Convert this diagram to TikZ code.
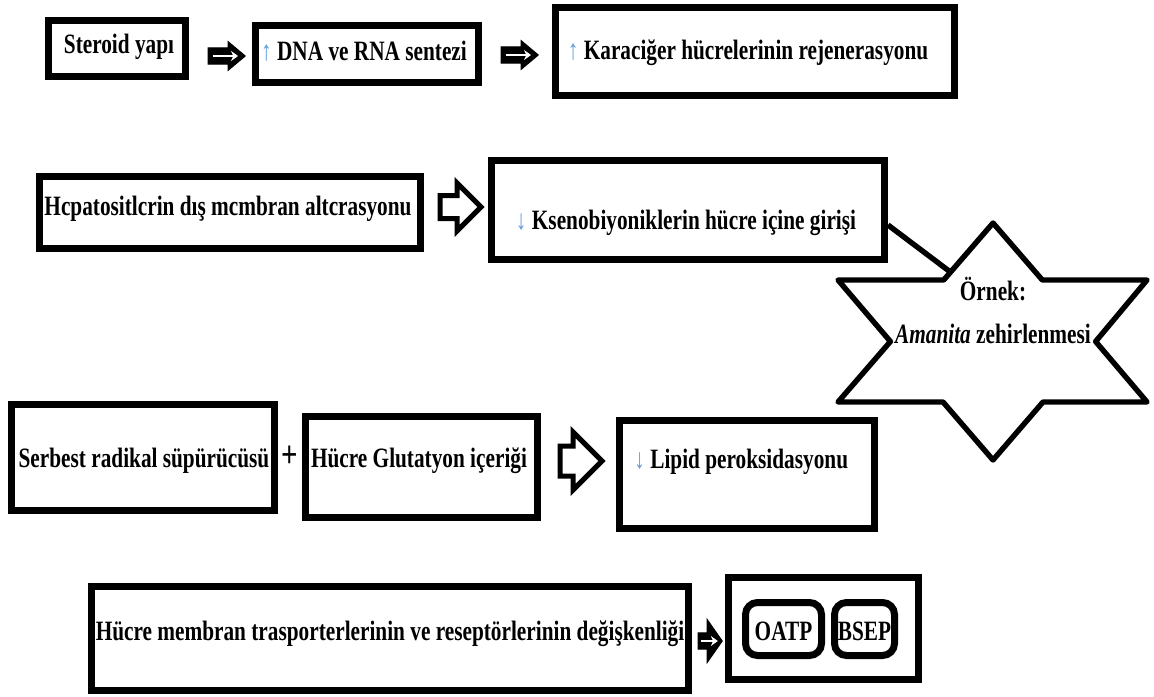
\documentclass[tikz,border=0pt]{standalone}
\usepackage{fontspec}
\setmainfont[FakeStretch=0.76]{Liberation Serif}
\usetikzlibrary{shapes.arrows}
\usetikzlibrary{arrows.meta}
\definecolor{okmavi}{RGB}{95,155,215}
\tikzstyle{kutu}=[draw, line width=3.5pt, fill=white, inner sep=0pt]
\tikzstyle{yuvarlak}=[kutu, rounded corners=6pt]
\tikzstyle{yazi}=[font=\bfseries\fontsize{14}{16}\selectfont, inner sep=0pt, anchor=base]
\tikzstyle{doluok}=[single arrow, fill=black, draw=black, line width=0.6pt, inner sep=0pt, text depth=0pt, anchor=tail]
\tikzstyle{bosok}=[single arrow, draw, line width=2.5pt, fill=white, inner sep=0pt, text depth=0pt, anchor=tail, single arrow tip angle=90]
\tikzstyle{beyazok}=[white, line width=1.3pt, -{Stealth[length=3.5pt, width=5pt]}]
\tikzstyle{baglanti}=[line width=2.7pt]
\newcommand{\artis}{{\color{okmavi}\mdseries ↑}}
\newcommand{\azalis}{{\color{okmavi}\mdseries ↓}}

\begin{document}
\begin{tikzpicture}[x=0.5pt, y=-0.5pt]
  \useasboundingbox (0,0) rectangle (1154,696);

  \node[kutu, minimum width=68.5pt, minimum height=28pt] (steroid) at (117,48.5) {};
  \node[kutu, minimum width=111.5pt, minimum height=28.5pt] (dna) at (367,54) {};
  \node[kutu, minimum width=199.5pt, minimum height=44pt] (karaciger) at (755,51.5) {};
  \node[yazi] (steroidyazi) at (119,53) {Steroid yapı};
  \node[yazi] (dnayazi) at (364,60) {\artis{} DNA ve RNA sentezi};
  \node[yazi] (karacigeryazi) at (748,59) {\artis{} Karaciğer hücrelerinin rejenerasyonu};
  \node[doluok, text height=7.5pt, minimum height=18.5pt, minimum width=13.5pt, single arrow head extend=3pt, single arrow tip angle=80] (ok1) at (207.5,56) {};
  \node[doluok, text height=7.5pt, minimum height=18.5pt, minimum width=13.5pt, single arrow head extend=3pt, single arrow tip angle=80] (ok2) at (500.5,55) {};
  \draw[beyazok] ([xshift=2.5pt]ok1.tail) -- ([xshift=-4pt]ok1.tip);
  \draw[beyazok] ([xshift=2.5pt]ok2.tail) -- ([xshift=-4pt]ok2.tip);

  \node[kutu, minimum width=190.5pt, minimum height=36pt] (hepatosit) at (230,212.5) {};
  \node[kutu, minimum width=196.5pt, minimum height=49.5pt] (ksen) at (688,210) {};
  \node[yazi] (hepatosityazi) at (228,215) {Hcpatositlcrin dış mcmbran altcrasyonu};
  \node[yazi] (ksenyazi) at (686,229) {\azalis{} Ksenobiyoniklerin hücre içine girişi};
  \node[bosok, text height=9pt, minimum height=20.5pt, minimum width=21.5pt, single arrow head extend=6.25pt] (ok3) at (437.5,207) {};

  \coordinate (ornekucu) at (953,274);
  \draw[baglanti] ([yshift=-7.5pt]ksen.east) -- (ornekucu);
  \draw[baglanti, fill=white, line join=round] (993,223) -- (1042.3,280) -- (1147,280) -- (1095.6,341.5)
    -- (1147,402) -- (1043,402) -- (993,460) -- (943,402) -- (838,402) -- (890.4,341.5)
    -- (838,280) -- (943.7,280) -- cycle;
  \node[yazi] (ornek) at (993,300) {Örnek:};
  \node[yazi] (amanita) at (993,343) {\textit{Amanita} zehirlenmesi};

  \node[kutu, minimum width=131.5pt, minimum height=53pt] (serbest) at (143,457.5) {};
  \node[kutu, minimum width=116pt, minimum height=50.5pt] (glutatyon) at (421.5,467) {};
  \node[kutu, minimum width=127.5pt, minimum height=54pt] (lipid) at (747,474.5) {};
  \node[yazi] (serbestyazi) at (144,467) {Serbest radikal süpürücüsü};
  \node[yazi, font=\bfseries\fontsize{19}{19}\selectfont, anchor=center] (arti) at (290,457) {+};
  \node[yazi] (glutatyonyazi) at (419,467) {Hücre Glutatyon içeriği};
  \node[yazi, anchor=base west] (lipidyazi) at (634,468) {\azalis{} Lipid peroksidasyonu};
  \node[bosok, text height=12.5pt, minimum height=21pt, minimum width=26.5pt, single arrow head extend=7pt] (ok4) at (557.5,461) {};

  \node[kutu, minimum width=298.5pt, minimum height=52pt] (membran) at (390,638.5) {};
  \node[yazi] (membranyazi) at (390,640) {Hücre membran trasporterlerinin ve reseptörlerinin değişkenliği};
  \node[doluok, text height=7.5pt, minimum height=12pt, minimum width=20.5pt, single arrow head extend=6.5pt, single arrow tip angle=110] (ok5) at (697.5,641) {};
  \draw[beyazok] ([xshift=1.5pt]ok5.tail) -- ([xshift=-2.5pt]ok5.tip);
  \node[kutu, minimum width=95pt, minimum height=51pt] (tasiyici) at (823.5,628.5) {};
  \node[yuvarlak, minimum width=38pt, minimum height=26.5pt] (oatp) at (783.5,629) {};
  \node[yuvarlak, minimum width=30pt, minimum height=26.5pt] (bsep) at (864.5,629) {};
  \node[yazi] (oatpyazi) at (783.5,640) {OATP};
  \node[yazi] (bsepyazi) at (864.5,640) {BSEP};
\end{tikzpicture}
\end{document}
